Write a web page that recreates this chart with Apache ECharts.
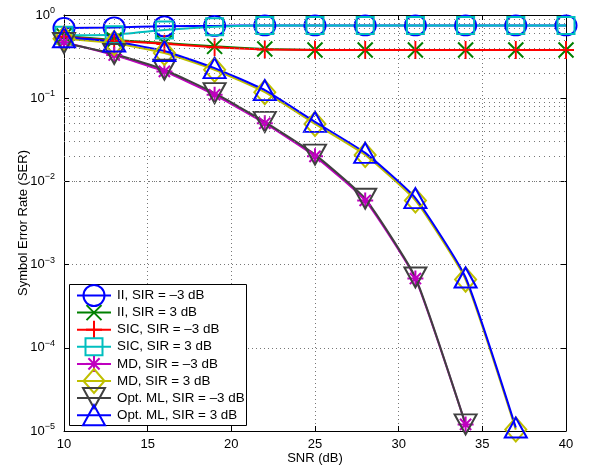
<!DOCTYPE html>
<html><head><meta charset="utf-8">
<script src="https://cdn.jsdelivr.net/npm/echarts@6/dist/echarts.min.js"></script>
<style>html,body{margin:0;padding:0;background:#fff}#c{width:609px;height:470px}</style>
</head><body><div id="c"></div>
<script>
// ---------------- data ----------------
const snr = [10, 13, 16, 19, 22, 25, 28, 31, 34, 37, 40];
const xTicks = [10, 15, 20, 25, 30, 35, 40];
const yTickExps = [0, -1, -2, -3, -4, -5];
const seriesNames = [
  'II, SIR = \u20133 dB', 'II, SIR = 3 dB',
  'SIC, SIR = \u20133 dB', 'SIC, SIR = 3 dB',
  'MD, SIR = \u20133 dB', 'MD, SIR = 3 dB',
  'Opt. ML, SIR = \u20133 dB', 'Opt. ML, SIR = 3 dB'
];
const ii_m3  = [0.70, 0.71, 0.73, 0.74, 0.75, 0.75, 0.75, 0.75, 0.75, 0.75, 0.75];
const ii_p3  = [0.56, 0.50, 0.46, 0.42, 0.39, 0.38, 0.38, 0.38, 0.38, 0.38, 0.38];
const sic_m3 = [0.55, 0.49, 0.45, 0.41, 0.385, 0.38, 0.38, 0.38, 0.38, 0.38, 0.38];
const sic_p3 = [0.57, 0.58, 0.66, 0.72, 0.75, 0.75, 0.75, 0.75, 0.75, 0.75, 0.75];
const md_m3  = [0.47, 0.33, 0.21, 0.11, 0.050, 0.020, 0.0059, 6.8e-4, 1.2e-5, null, null];
const md_p3  = [0.52, 0.46, 0.35, 0.22, 0.118, 0.049, 0.0208, 0.0059, 6.6e-4, 1.04e-5, null];
const ml_m3  = [0.46, 0.34, 0.22, 0.115, 0.052, 0.021, 0.0062, 7.0e-4, 1.2e-5, null, null];
const ml_p3  = [0.54, 0.48, 0.37, 0.23, 0.125, 0.052, 0.022, 0.0063, 7.0e-4, 1.1e-5, null];

// ---------------- styling ----------------
const FONT = '"Liberation Sans", Arial, Helvetica, sans-serif';
const shapes = {
  circle: (w, h) => `M0,${h/2}A${w/2},${h/2},0,1,1,${w},${h/2}A${w/2},${h/2},0,1,1,0,${h/2}Z`,
  cross: (w, h) => `M0,0L${w},${h}M${w},0L0,${h}`,
  plus: (w, h) => `M${w/2},0L${w/2},${h}M0,${h/2}L${w},${h/2}`,
  square: (w, h) => `M0,0L${w},0L${w},${h}L0,${h}Z`,
  star: (w, h) => `M${w/2},0L${w/2},${h}M0,${h/2}L${w},${h/2}M${w*0.15},${h*0.15}L${w*0.85},${h*0.85}M${w*0.85},${h*0.15}L${w*0.15},${h*0.85}`,
  diamond: (w, h) => `M${w/2},0L${w},${h/2}L${w/2},${h}L0,${h/2}Z`,
  triDown: (w, h) => `M0,0L${w},0L${w/2},${h}Z`,
  triUp: (w, h) => `M${w/2},0L${w},${h}L0,${h}Z`
};
const defs = [
  { data: ii_m3,  color: '#0000ff', shape: 'circle',  size: [21, 20] },
  { data: ii_p3,  color: '#008000', shape: 'cross',   size: [15, 15] },
  { data: sic_m3, color: '#ff0000', shape: 'plus',    size: [16, 18] },
  { data: sic_p3, color: '#00bfbf', shape: 'square',  size: [17, 17] },
  { data: md_m3,  color: '#bf00bf', shape: 'star',    size: [16, 16] },
  { data: md_p3,  color: '#bfbf00', shape: 'diamond', size: [21, 24] },
  { data: ml_m3,  color: '#404040', shape: 'triDown', size: [22, 20] },
  { data: ml_p3,  color: '#0000ff', shape: 'triUp',   size: [22, 20] }
];

const minorVals = [];
for (let e = -5; e < 0; e++) for (let m = 2; m <= 9; m++) minorVals.push(m * Math.pow(10, e));

const gridDot = { type: [1, 3], color: '#777', width: 1 };

const series = [{
  type: 'line', data: [], silent: true, animation: false,
  markLine: {
    silent: true, animation: false, symbol: ['none', 'none'],
    label: { show: false }, emphasis: { disabled: true },
    lineStyle: { type: [1, 4], color: '#777', width: 1 },
    data: minorVals.map(v => ({ yAxis: v }))
  }
}];
defs.forEach((d, i) => {
  series.push({
    name: seriesNames[i], type: 'line',
    data: snr.map((x, k) => [x, d.data[k] == null ? '-' : d.data[k]]),
    symbol: 'path://' + shapes[d.shape](d.size[0], d.size[1]),
    symbolSize: d.size, showAllSymbol: true, smooth: 0.15,
    lineStyle: { color: d.color, width: 2 },
    itemStyle: { color: 'rgba(0,0,0,0)', borderColor: d.color, borderWidth: 2 },
    emphasis: { disabled: true }, silent: true, animation: false, connectNulls: false
  });
});

// legend symbols built from graphic primitives
function legendSymbol(shape, cx, cy, w, h, color) {
  const st = { fill: 'none', stroke: color, lineWidth: 2 };
  const L = (x1, y1, x2, y2) => ({ type: 'line', z: 102, shape: { x1, y1, x2, y2 }, style: st });
  const P = pts => ({ type: 'polygon', z: 102, shape: { points: pts }, style: st });
  const x0 = cx - w / 2, y0 = cy - h / 2, x1 = cx + w / 2, y1 = cy + h / 2;
  switch (shape) {
    case 'circle': return [{ type: 'circle', z: 102, shape: { cx, cy, r: w / 2 }, style: st }];
    case 'cross': return [L(x0, y0, x1, y1), L(x1, y0, x0, y1)];
    case 'plus': return [L(cx, y0, cx, y1), L(x0, cy, x1, cy)];
    case 'square': return [{ type: 'rect', z: 102, shape: { x: x0, y: y0, width: w, height: h }, style: st }];
    case 'star': return [L(cx, y0, cx, y1), L(x0, cy, x1, cy),
      L(x0 + w * 0.15, y0 + h * 0.15, x1 - w * 0.15, y1 - h * 0.15), L(x1 - w * 0.15, y0 + h * 0.15, x0 + w * 0.15, y1 - h * 0.15)];
    case 'diamond': return [P([[cx, y0], [x1, cy], [cx, y1], [x0, cy]])];
    case 'triDown': return [P([[x0, y0], [x1, y0], [cx, y1]])];
    case 'triUp': return [P([[cx, y0], [x1, y1], [x0, y1]])];
  }
  return [];
}

const LX = 69, LY = 284, LW = 177, LH = 141, row0 = 295.5, rowDy = 17.1;
const graphic = [{
  type: 'rect', z: 100, shape: { x: LX + 0.5, y: LY + 0.5, width: LW, height: LH },
  style: { fill: '#fff', stroke: '#000', lineWidth: 1 }
}];
defs.forEach((d, i) => {
  const cy = row0 + i * rowDy;
  graphic.push({ type: 'line', z: 101, shape: { x1: 77, y1: cy, x2: 111, y2: cy }, style: { stroke: d.color, lineWidth: 2 } });
  legendSymbol(d.shape, 94, cy, d.size[0], d.size[1], d.color).forEach(el => graphic.push(el));
  graphic.push({ type: 'text', z: 103, x: 117, y: cy,
    style: { text: seriesNames[i], font: '13.4px ' + FONT, fill: '#000', verticalAlign: 'middle', textVerticalAlign: 'middle' } });
});

const supLabel = v => {
  const e = Math.round(Math.log10(v));
  return '10{s|' + (e < 0 ? '\u2212' + (-e) : e) + '}';
};

const option = {
  animation: false,
  backgroundColor: '#fff',
  grid: { left: 64, right: 43, top: 15, bottom: 39, containLabel: false },
  xAxis: [{
    type: 'value', min: xTicks[0], max: xTicks[xTicks.length - 1], interval: 5, position: 'bottom',
    axisLine: { show: true, onZero: false, lineStyle: { color: '#000', width: 1 } },
    axisTick: { show: true, inside: true, length: 5, lineStyle: { color: '#000' } },
    axisLabel: { color: '#000', fontSize: 13, fontFamily: FONT, margin: 7 },
    splitLine: { show: true, lineStyle: gridDot },
    name: 'SNR (dB)', nameLocation: 'middle', nameGap: 21, nameMoveOverlap: false,
    nameTextStyle: { color: '#000', fontSize: 13, fontFamily: FONT }
  }, {
    type: 'value', min: xTicks[0], max: xTicks[xTicks.length - 1], interval: 5, position: 'top',
    axisLine: { show: true, onZero: false, lineStyle: { color: '#000', width: 1 } },
    axisTick: { show: true, inside: true, length: 5, lineStyle: { color: '#000' } },
    axisLabel: { show: false }, splitLine: { show: false }
  }],
  yAxis: [{
    type: 'log', logBase: 10, min: Math.pow(10, yTickExps[yTickExps.length - 1]), max: Math.pow(10, yTickExps[0]),
    position: 'left',
    axisLine: { show: true, onZero: false, lineStyle: { color: '#000', width: 1 } },
    axisTick: { show: true, inside: true, length: 5, lineStyle: { color: '#000' } },
    axisLabel: {
      color: '#000', fontSize: 13, fontFamily: FONT, margin: 9, formatter: supLabel,
      rich: { s: { fontSize: 9, fontFamily: FONT, color: '#000', padding: [0, 0, 9, 0] } }
    },
    splitLine: { show: true, lineStyle: gridDot },
    name: 'Symbol Error Rate (SER)', nameLocation: 'middle', nameGap: 34, nameRotate: 90, nameMoveOverlap: false,
    nameTextStyle: { color: '#000', fontSize: 13, fontFamily: FONT }
  }, {
    type: 'log', logBase: 10, min: Math.pow(10, yTickExps[yTickExps.length - 1]), max: Math.pow(10, yTickExps[0]),
    position: 'right',
    axisLine: { show: true, onZero: false, lineStyle: { color: '#000', width: 1 } },
    axisTick: { show: true, inside: true, length: 5, lineStyle: { color: '#000' } },
    axisLabel: { show: false }, splitLine: { show: false }
  }],
  series: series,
  graphic: graphic
};
const chart = echarts.init(document.getElementById('c'));
chart.setOption(option);
</script>
</body></html>
